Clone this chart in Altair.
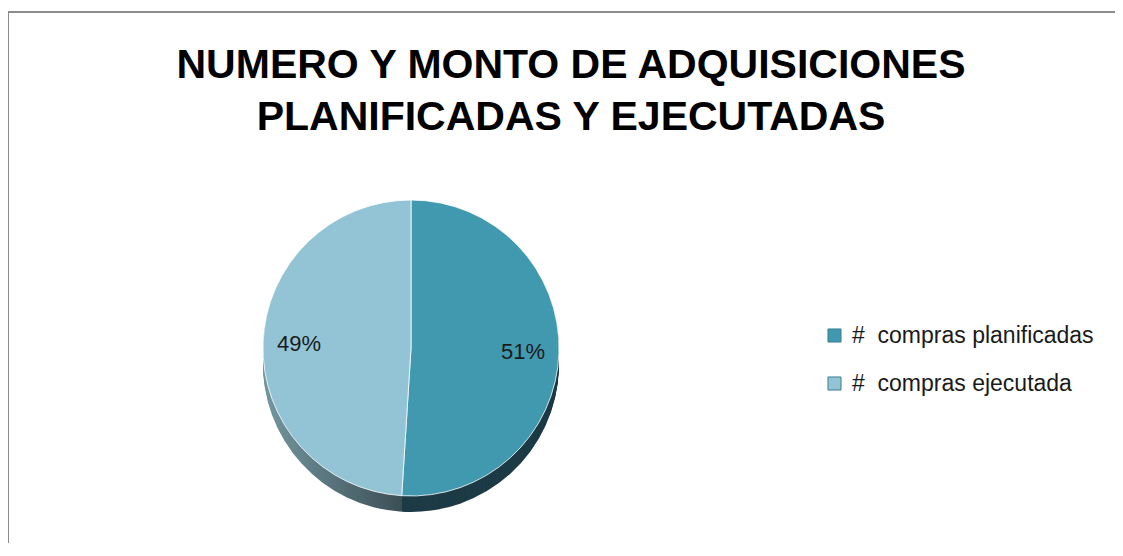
import altair as alt
import pandas as pd

categories = ["#\u00a0 compras planificadas", "#\u00a0 compras ejecutada"]
values = [51, 49]
labels = ["51%", "49%"]
top_colors = ["#4199B0", "#93C4D6"]
title_lines = ["NUMERO Y MONTO DE ADQUISICIONES", "PLANIFICADAS Y EJECUTADAS"]

df = pd.DataFrame({"cat": categories, "value": values, "label": labels, "order": [0, 1]})
title_df = pd.DataFrame({"t": title_lines, "line": [0, 1]})

W, H = 1107, 535
CX, CY = 403, 340
R = 148
DEPTH = 16
FONT = "Liberation Sans"

theta = alt.Theta("value:Q", stack=True)
order = alt.Order("order:Q")

side_gradient = {
    "gradient": "linear", "x1": 0, "x2": 1, "y1": 0, "y2": 0,
    "stops": [{"offset": 0, "color": "#74979F"}, {"offset": 1, "color": "#384A52"}],
}

layers = []
# frame
frame = alt.Chart(pd.DataFrame({"a": [0]})).mark_rect(
    fill="white", stroke="#8C8C8C", strokeWidth=2
).encode(x=alt.value(0), y=alt.value(4), x2=alt.value(W + 20), y2=alt.value(H + 20))
layers.append(frame)

# side walls (extrusion)
for d in range(DEPTH, 0, -1):
    side = alt.Chart(df).mark_arc(radius=R).encode(
        theta=theta,
        order=order,
        x=alt.value(CX),
        y=alt.value(CY + d),
        fill=alt.condition("datum.order == 0", alt.value("#1D3B46"), alt.value(side_gradient)),
    )
    layers.append(side)

top = alt.Chart(df).mark_arc(radius=R, stroke="white", strokeWidth=0.8).encode(
    theta=theta,
    order=order,
    x=alt.value(CX),
    y=alt.value(CY),
    color=alt.Color(
        "cat:N",
        scale=alt.Scale(domain=categories, range=top_colors),
        sort=categories,
        legend=alt.Legend(
            title=None,
            orient="none",
            legendX=815,
            legendY=316,
            symbolType="square",
            symbolSize=170,
            symbolStrokeColor="#3A7D90",
            symbolStrokeWidth=1,
            labelFont=FONT,
            labelFontSize=23,
            labelColor="#1A1A1A",
            labelLimit=500,
            rowPadding=24,
            labelOffset=6,
            padding=0,
        ),
    ),
)
layers.append(top)

text = alt.Chart(df).mark_text(
    radius=112, font=FONT, fontSize=22, color="#1A1A1A"
).encode(theta=theta, order=order, x=alt.value(CX), y=alt.value(CY), text="label:N")
layers.append(text)

title = alt.Chart(title_df).mark_text(
    font=FONT, fontSize=41, fontWeight="bold", color="black", baseline="alphabetic", align="center"
).encode(
    x=alt.value(563),
    y=alt.Y("line:Q", scale=alt.Scale(domain=[0, 1], range=[70, 122]), axis=None),
    text="t:N",
)
layers.append(title)

chart = alt.layer(*layers).properties(
    width=W, height=H, padding=0, autosize=alt.AutoSizeParams(type="none")
).configure_view(stroke=None)

chart.save("out.html", embed_options={"renderer": "svg", "actions": False})
